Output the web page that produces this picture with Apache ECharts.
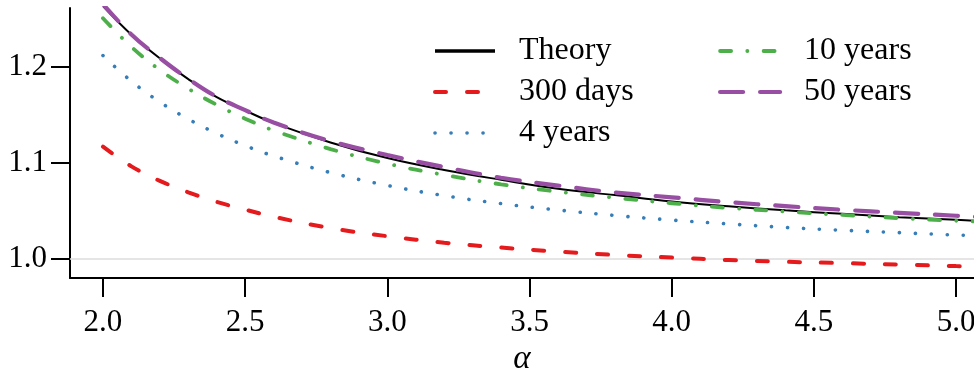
<!DOCTYPE html>
<html>
<head>
<meta charset="utf-8">
<script src="https://cdn.jsdelivr.net/npm/echarts@6/dist/echarts.min.js"></script>
<style>
  html, body { margin: 0; padding: 0; background: #fff; }
  #chart { width: 974px; height: 372px; }
</style>
</head>
<body>
<div id="chart"></div>
<script>
// values
const alpha = [2.0, 2.1, 2.2, 2.3, 2.4, 2.5, 2.6, 2.8, 3.0, 3.2, 3.4, 3.6, 3.8, 4.0, 4.2, 4.4, 4.6, 4.8, 5.0, 5.1]
const theory = [1.263, 1.2332, 1.2086, 1.187, 1.1683, 1.1543, 1.1414, 1.1211, 1.1048, 1.0924, 1.0822, 1.0729, 1.0663, 1.0597, 1.0547, 1.0504, 1.0468, 1.0433, 1.0405, 1.0391]
const days300 = [1.1167, 1.0962, 1.0811, 1.0692, 1.0592, 1.0512, 1.0437, 1.032, 1.0235, 1.0167, 1.0117, 1.0075, 1.004, 1.0013, 0.9987, 0.9969, 0.9955, 0.994, 0.9924, 0.9918]
const years4 = [1.2115, 1.1848, 1.1632, 1.1454, 1.1304, 1.1178, 1.107, 1.0897, 1.0763, 1.0657, 1.0574, 1.0508, 1.0451, 1.0403, 1.0363, 1.0326, 1.0297, 1.0272, 1.0247, 1.0238]
const years10 = [1.2504, 1.2205, 1.1965, 1.177, 1.1602, 1.1458, 1.1336, 1.1142, 1.099, 1.0873, 1.0775, 1.0698, 1.0635, 1.0578, 1.0529, 1.0491, 1.0456, 1.0423, 1.0396, 1.0385]
const years50 = [1.265, 1.2335, 1.209, 1.1873, 1.1686, 1.1547, 1.1418, 1.1225, 1.108, 1.0954, 1.0843, 1.0762, 1.069, 1.064, 1.0589, 1.0548, 1.051, 1.0478, 1.0448, 1.0435]

const xTicks = [2.0, 2.5, 3.0, 3.5, 4.0, 4.5, 5.0]
const yTicks = [1.0, 1.1, 1.2]
const refLevel = 1.0

const FONT = 'Liberation Serif'
const pairs = ys => alpha.map((a, i) => [a, ys[i]])

// line looks, shared by the series and their legend handles
const styles = {
  'Theory': { color: '#000', width: 2, type: 'solid' },
  '300 days': { color: '#e41a1c', width: 4, type: [11, 21], cap: 'round' },
  '4 years': { color: '#377eb8', width: 3.6, type: [0.1, 15.9], cap: 'round' },
  '10 years': { color: '#4daf4a', width: 3.8, type: [11, 16.2, 0.1, 16.2], cap: 'round' },
  '50 years': { color: '#984ea3', width: 4.2, type: [23, 17], cap: 'round' },
}

const chart = echarts.init(document.getElementById('chart'), null, { renderer: 'canvas' })

const axisCommon = {
  axisLine: { show: true, lineStyle: { color: '#000', width: 2 } },
  axisTick: { show: true, inside: false, length: 19, lineStyle: { color: '#000', width: 2 } },
  splitLine: { show: false },
}

const legendText = { fontFamily: FONT, fontSize: 32, color: '#000', lineHeight: 31, padding: [0, 0, 0, 19] }
const legendCommon = {
  orient: 'vertical', top: 30, itemWidth: 60, itemHeight: 14, itemGap: 9,
  selectedMode: false, textStyle: legendText,
  itemStyle: { opacity: 0 }, // hide the symbol, keep only the line
}
const legendItem = (name, extra) => ({ name, lineStyle: { ...styles[name], ...extra } })

const lineSeries = (name, data, extra) => ({
  name, type: 'line', data: pairs(data), symbol: 'none',
  smooth: 0.4, color: styles[name].color,
  lineStyle: { ...styles[name] },
  ...extra,
})

const option = {
  animation: false,
  backgroundColor: '#fff',
  grid: { left: 70, top: 8, right: 0, bottom: 94, containLabel: false, outerBoundsMode: 'none' },
  xAxis: {
    type: 'value',
    min: 1.884,
    max: 5.063,
    ...axisCommon,
    axisTick: { ...axisCommon.axisTick, customValues: xTicks },
    axisLabel: {
      customValues: xTicks,
      formatter: v => v.toFixed(1),
      fontFamily: FONT, fontSize: 31, color: '#000', margin: 29,
    },
    name: 'α',
    nameLocation: 'middle',
    nameGap: 63,
    nameTextStyle: { fontFamily: FONT, fontStyle: 'italic', fontSize: 33, color: '#000' },
  },
  yAxis: {
    type: 'value',
    min: 0.98,
    max: 1.261,
    ...axisCommon,
    axisTick: { ...axisCommon.axisTick, customValues: yTicks },
    axisLabel: {
      customValues: yTicks,
      formatter: v => v.toFixed(1),
      fontFamily: FONT, fontSize: 31, color: '#000', margin: 23,
    },
  },
  legend: [
    {
      ...legendCommon, left: 428,
      data: [legendItem('Theory', { width: 3.5 }), legendItem('300 days'), legendItem('4 years')],
    },
    {
      ...legendCommon, left: 713,
      data: [legendItem('10 years'), legendItem('50 years')],
    },
  ],
  series: [
    lineSeries('Theory', theory, {
      markLine: {
        silent: true, symbol: 'none', label: { show: false },
        lineStyle: { color: '#dcdcdc', width: 1.5, type: 'solid' },
        data: [{ yAxis: refLevel }],
        z: 1,
      },
    }),
    lineSeries('300 days', days300),
    lineSeries('4 years', years4),
    lineSeries('10 years', years10),
    lineSeries('50 years', years50),
  ],
}

chart.setOption(option)
</script>
</body>
</html>
